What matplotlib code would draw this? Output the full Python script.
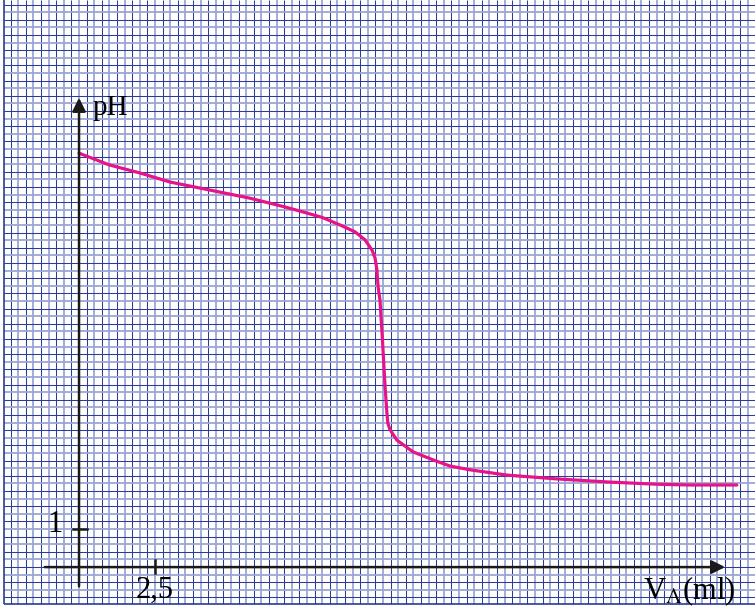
import numpy as np
import matplotlib
matplotlib.use("Agg")
import matplotlib.pyplot as plt

# titration curve
volume = [0.0, 1.0, 2.0, 3.0, 4.3, 5.6, 6.8, 7.3, 8.0, 8.59, 9.08, 9.41, 9.64,
          9.74, 9.8, 9.84, 9.9, 9.97, 10.07, 10.13, 10.16, 10.22, 10.3, 10.46,
          10.99, 11.65, 12.2, 12.86, 14.08, 15.72, 17.37, 19.01, 20.1, 21.64]
ph = [10.89, 10.58, 10.37, 10.13, 9.92, 9.71, 9.47, 9.36, 9.2, 9.0, 8.82,
      8.61, 8.34, 8.13, 7.82, 7.37, 7.03, 6.16, 4.74, 4.05, 3.79, 3.64, 3.53,
      3.34, 3.03, 2.82, 2.66, 2.56, 2.42, 2.32, 2.24, 2.18, 2.16, 2.16]

x_tick = 2.5
y_tick = 1
x_label = r"V$_\mathrm{A}$(ml)"
y_label = "pH"

plt.rcParams['font.family'] = ['Liberation Serif', 'DejaVu Serif']
plt.rcParams['mathtext.fontset'] = 'stix'

fig = plt.figure(figsize=(7.55, 6.07), dpi=100)
ax = fig.add_axes([0, 0, 1, 1])
ax.set_xlim(-2.6, 22.24)
ax.set_ylim(-1.05, 14.92)
ax.axis('off')

# graph paper: small squares of 0.25 ml by 0.2 pH
x0, x1 = -2.47, 22.24
y0, y1 = -0.97, 14.92
gx = np.arange(np.ceil(x0 / 0.25), np.floor(x1 / 0.25) + 1) * 0.25
gy = np.arange(np.ceil(y0 / 0.2), np.floor(y1 / 0.2) + 1) * 0.2
for i, v in enumerate(gx):
    if i % 2:
        ax.vlines(v, y0, y1, color='#9ba6d2', lw=1.3, zorder=1)
    else:
        ax.vlines(v, y0, y1, color='#2a3c95', lw=0.75, zorder=1)
for i, v in enumerate(gy):
    if i % 2:
        ax.hlines(v, x0, x1, color='#9ba6d2', lw=1.3, zorder=1)
    else:
        ax.hlines(v, x0, x1, color='#2a3c95', lw=0.75, zorder=1)
ax.vlines(x0, y0, y1, color='#2a3c95', lw=1.2, zorder=1)
ax.hlines(y0, x0, x1, color='#2a3c95', lw=1.2, zorder=1)

# axes with arrows
ax.annotate('', xy=(21.35, 0), xytext=(-1.22, 0),
            arrowprops=dict(arrowstyle='-|>', color='#1a1a1a', lw=1.8,
                            mutation_scale=20), zorder=4)
ax.annotate('', xy=(0, 12.42), xytext=(0, -0.58),
            arrowprops=dict(arrowstyle='-|>', color='#1a1a1a', lw=1.8,
                            mutation_scale=20), zorder=4)
ax.plot([-0.2, 0.26], [y_tick, y_tick], color='#1a1a1a', lw=1.8, zorder=4)
ax.plot([x_tick, x_tick], [0.18, -0.16], color='#1a1a1a', lw=1.8, zorder=4)

ax.text(0.46, 12.08, y_label, fontsize=21, ha='left', va='center', zorder=5)
ax.text(-0.55, 1.13, str(y_tick), fontsize=22, ha='right', va='center', zorder=5)
ax.text(x_tick, -0.24, "2,5", fontsize=22, ha='center', va='top', zorder=5)
ax.text(18.55, -0.2, x_label, fontsize=22, ha='left', va='top', zorder=5)

ax.plot(volume, ph, color='#e8128a', lw=2.3, solid_capstyle='round',
        solid_joinstyle='round', zorder=3)

fig.savefig("out.png", dpi=100)
